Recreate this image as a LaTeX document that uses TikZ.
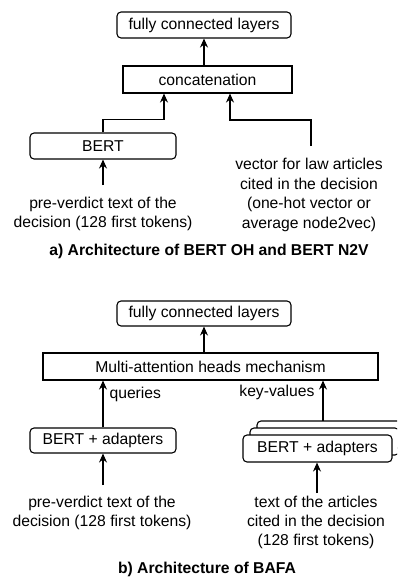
\documentclass[tikz,border=0pt]{standalone}
\usepackage{fontspec}
\setmainfont{Liberation Sans}
\usetikzlibrary{arrows.meta,calc}
\newcommand{\diagfont}{\fontsize{15.7}{19.4}\selectfont}
\tikzset{
  box/.style={draw=black,line width=1.1pt,fill=white,inner sep=0pt,anchor=center},
  rbox/.style={box,rounded corners=4pt},
  txt/.style={inner sep=0pt,align=center,anchor=center},
  arr/.style={line width=1.1pt,-{Stealth[length=9pt,width=8pt]}},
  caption/.style={inner sep=0pt,anchor=center,font=\diagfont\bfseries}
}
\begin{document}
\begin{tikzpicture}[x=1pt,y=-1pt,font=\diagfont]
\useasboundingbox (0,0) rectangle (397,583);

% ---------- a) BERT OH / BERT N2V ----------
\node[rbox,minimum width=174pt,minimum height=26pt] (fcA) at (204,25) {fully connected layers};
\node[box,minimum width=169pt,minimum height=27pt] (concat) at (207.5,79.5) {concatenation};
\node[rbox,minimum width=146pt,minimum height=26pt] (bertA) at (103,146) {BERT};
\node[txt] (preA) at (103,214) {pre-verdict text of the\\decision (128 first tokens)};
\node[txt] (vecA) at (309,195) {vector for law articles\\cited in the decision\\(one-hot vector or\\average node2vec)};
\node[caption] (capA) at (209,251) {a) Architecture of BERT OH and BERT N2V};

\coordinate (preAtop) at (103,185);
\coordinate (vecAtop) at (311,146);

\draw[arr] (fcA.south |- concat.north) -- (fcA.south);
\draw[arr] (bertA.north) -- ++(0,-13) -| ([xshift=-43.5pt]concat.south);
\draw[arr] (vecAtop) -- ++(0,-26) -| ([xshift=22.5pt]concat.south);
\draw[arr] (preAtop) -- (bertA.south);

% ---------- b) BAFA ----------
\node[rbox,minimum width=174pt,minimum height=25pt] (fcB) at (204,313.5) {fully connected layers};
\node[box,minimum width=335pt,minimum height=27pt] (multi) at (210.5,366.5) {Multi-attention heads mechanism};
\node[rbox,minimum width=146pt,minimum height=25pt] (bertB) at (103,440.5) {BERT + adapters};

% stack of article encoders, cut by the right edge
\begin{scope}
  \clip (0,0) rectangle (397,583);
  \node[rbox,minimum width=149pt,minimum height=27pt] (artC) at (331.5,434.5) {};
  \node[rbox,minimum width=149pt,minimum height=27pt] (artB) at (324.5,441.5) {};
  \node[rbox,minimum width=149pt,minimum height=27pt] (artA) at (317.5,448.5) {BERT + adapters};
\end{scope}

\node[txt] (preB) at (102,513) {pre-verdict text of the\\decision (128 first tokens)};
\node[txt] (artT) at (316,522.5) {text of the articles\\cited in the decision\\(128 first tokens)};
\node[caption] (capB) at (207,569) {b) Architecture of BAFA};

\coordinate (preBtop) at (103,485);
\coordinate (artTtop) at (317,493);
\coordinate (kvfoot) at (323,421);

\draw[arr] (fcB.south |- multi.north) -- (fcB.south);
\draw[arr] (bertB.north) -- (bertB.north |- multi.south)
  node[pos=0.7,right=6pt,txt,anchor=west] (qlab) {queries};
\draw[arr] (kvfoot) -- (kvfoot |- multi.south)
  node[pos=0.7,left=8pt,txt,anchor=east] (kvlab) {key-values};
\draw[arr] (preBtop) -- (bertB.south);
\draw[arr] (artTtop) -- (artA.south -| artTtop);
\end{tikzpicture}
\end{document}
